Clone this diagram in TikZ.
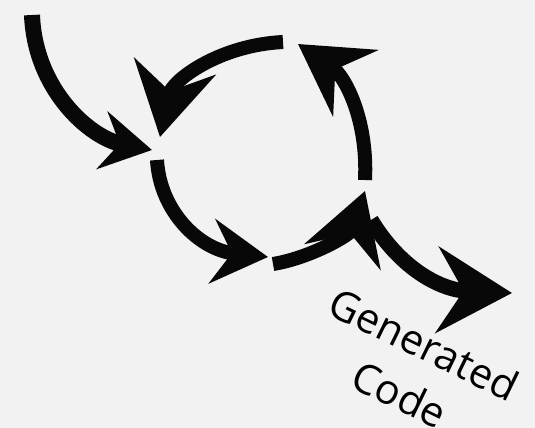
\documentclass[tikz,border=0pt]{standalone}
\usepackage{fontspec}
\usepackage{tikz}
\usetikzlibrary{positioning, arrows.meta}
\setmainfont{Open Sans}
\definecolor{paper}{HTML}{F2F2F2}
\definecolor{ink}{HTML}{080808}

\begin{document}
\begin{tikzpicture}[x=0.75pt, y=-0.75pt,
    brush/.style={draw=ink, line width=10.5pt,
      -{Stealth[length=#1, width'=0pt 1.15, inset'=0pt 0.35]}},
    brush/.default=48pt]
  \fill[paper] (0,0) rectangle (535,428);
  \useasboundingbox (0,0) rectangle (535,428);
  % ends of the strokes
  \coordinate (src) at (32,15);
  \coordinate (westin) at (152,150);
  \coordinate (westtop) at (160,137);
  \coordinate (westout) at (157,160);
  \coordinate (southin) at (268,257);
  \coordinate (southout) at (273,264);
  \coordinate (eastin) at (365,191);
  \coordinate (eastout) at (365,180);
  \coordinate (eastexit) at (371,220);
  \coordinate (northin) at (298,44);
  \coordinate (northout) at (283,42);
  \coordinate (dst) at (512,293);
  % the cycle
  \draw[brush=38pt, line width=12pt] (src) .. controls (35,90) and (90,138) .. (westin);
  \draw[brush=54pt] (northout) .. controls (220,45) and (172,80) .. (westtop);
  \draw[brush=42pt] (westout) .. controls (160,212) and (200,250) .. (southin);
  \draw[brush=52pt] (southout) .. controls (310,258) and (350,235) .. (eastin);
  \draw[brush=52pt] (eastout) .. controls (368,120) and (345,76) .. (northin);
  \draw[brush=56pt, line width=11.5pt] (eastexit) .. controls (400,268) and (440,290) .. (dst);
  % label
  \node[rotate=-26, align=center, font=\fontsize{31}{42}\selectfont] (label) at (412,369) {Generated\\Code};
\end{tikzpicture}
\end{document}
